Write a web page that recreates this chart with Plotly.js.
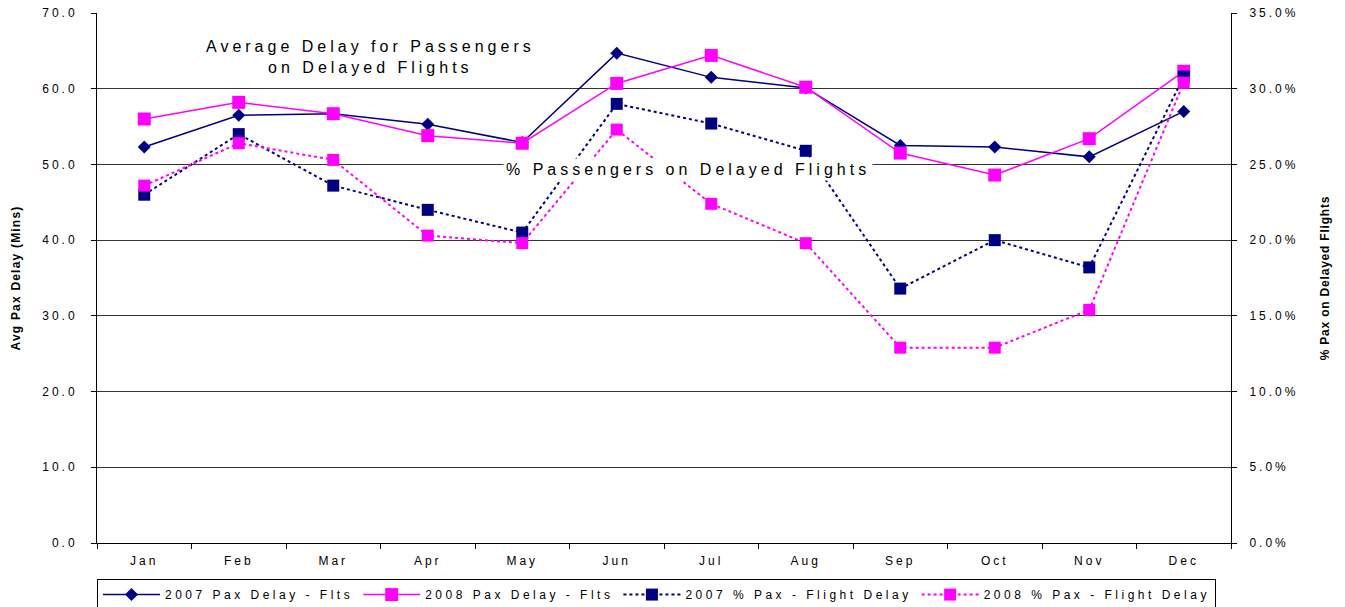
<!DOCTYPE html>
<html>
<head>
<meta charset="utf-8">
<script src="https://cdn.plot.ly/plotly-3.0.1.min.js"></script>
<style>
html, body { margin: 0; padding: 0; background: #fff; }
#chart { width: 1345px; height: 607px; }
text { letter-spacing: 3px; }
.annotation-text { letter-spacing: 4px; }
.legendtext { letter-spacing: 3.5px; }
.ytitle { letter-spacing: 1.2px !important; }
.y2title { letter-spacing: 0.8px !important; }
</style>
</head>
<body>
<div id="chart"></div>
<script>
const months = ["Jan","Feb","Mar","Apr","May","Jun","Jul","Aug","Sep","Oct","Nov","Dec"];
const paxDelay2007 = [52.3, 56.5, 56.7, 55.3, 52.9, 64.7, 61.5, 60.1, 52.5, 52.3, 51.0, 57.0];
const paxDelay2008 = [56.0, 58.2, 56.7, 53.8, 52.8, 60.7, 64.4, 60.2, 51.5, 48.6, 53.4, 62.3];
const pctPax2007 = [23.0, 27.0, 23.6, 22.0, 20.5, 29.0, 27.7, 25.9, 16.8, 20.0, 18.2, 30.8];
const pctPax2008 = [23.6, 26.4, 25.3, 20.3, 19.8, 27.3, 22.4, 19.8, 12.9, 12.9, 15.4, 30.4];

const navy = "#000080";
const magenta = "#FF00FF";

const traces = [
  {x: months, y: paxDelay2007, name: "2007 Pax Delay - Flts", type: "scatter", mode: "lines+markers",
   line: {color: navy, width: 1.5}, marker: {symbol: "diamond", size: 10, color: navy}},
  {x: months, y: paxDelay2008, name: "2008 Pax Delay - Flts", type: "scatter", mode: "lines+markers",
   line: {color: magenta, width: 1.5}, marker: {symbol: "square", size: 13, color: magenta}},
  {x: months, y: pctPax2007, name: "2007 % Pax - Flight Delay", type: "scatter", mode: "lines+markers", yaxis: "y2",
   line: {color: navy, width: 2, dash: "dot"}, marker: {symbol: "square", size: 12, color: navy}},
  {x: months, y: pctPax2008, name: "2008 % Pax - Flight Delay", type: "scatter", mode: "lines+markers", yaxis: "y2",
   line: {color: magenta, width: 2, dash: "dot"}, marker: {symbol: "square", size: 12, color: magenta}}
];

const FONT = "Liberation Sans, Arial, sans-serif";
const tickFont = {family: FONT, size: 12, color: "#000"};

const layout = {
  width: 1345, height: 607,
  margin: {l: 97, r: 114, t: 13, b: 64, autoexpand: false},
  paper_bgcolor: "#fff", plot_bgcolor: "#fff",
  font: tickFont,
  showlegend: true,
  legend: {orientation: "h", xref: "container", yref: "container", x: 0.0721, xanchor: "left", y: 0.046, yanchor: "top",
           bordercolor: "#000", borderwidth: 1, font: {family: FONT, size: 12, color: "#000"},
           traceorder: "normal", itemwidth: 57},
  xaxis: {type: "category", range: [-0.5, 11.5], showgrid: false, showline: true, linecolor: "#000", linewidth: 1,
          ticks: "outside", tickson: "boundaries", ticklen: 5, tickcolor: "#000", tickfont: tickFont, zeroline: false,
          ticklabelstandoff: 7},
  yaxis: {range: [0, 70], dtick: 10, tickformat: ".1f", showgrid: true, gridcolor: "#333", gridwidth: 1,
          showline: true, linecolor: "#000", linewidth: 1, ticks: "outside", ticklen: 5, tickcolor: "#000",
          tickfont: tickFont, zeroline: false, ticklabelstandoff: 11,
          title: {text: "Avg Pax Delay (Mins)", font: {family: FONT, size: 12, color: "#000", weight: "bold"}, standoff: 19}},
  yaxis2: {overlaying: "y", side: "right", range: [0, 35], dtick: 5, tickformat: ".1f", ticksuffix: "%",
           showgrid: false, showline: true, linecolor: "#000", linewidth: 1, ticks: "outside", ticklen: 5, tickcolor: "#000",
           tickfont: tickFont, zeroline: false, ticklabelstandoff: 10,
           title: {text: "% Pax on Delayed Flights", font: {family: FONT, size: 12, color: "#000", weight: "bold"}, standoff: 23}},
  annotations: [
    {text: "Average Delay for Passengers<br>on Delayed Flights", xref: "paper", yref: "paper", x: 0.241, y: 0.917,
     xanchor: "center", yanchor: "middle", showarrow: false, bgcolor: "#fff",
     font: {family: FONT, size: 16, color: "#000"}},
    {text: "% Passengers on Delayed Flights", xref: "paper", yref: "paper", x: 0.521, y: 0.704,
     xanchor: "center", yanchor: "middle", showarrow: false, bgcolor: "#fff", borderpad: 2,
     font: {family: FONT, size: 16, color: "#000"}}
  ]
};

Plotly.newPlot("chart", traces, layout, {displayModeBar: false, staticPlot: true});
</script>
</body>
</html>
